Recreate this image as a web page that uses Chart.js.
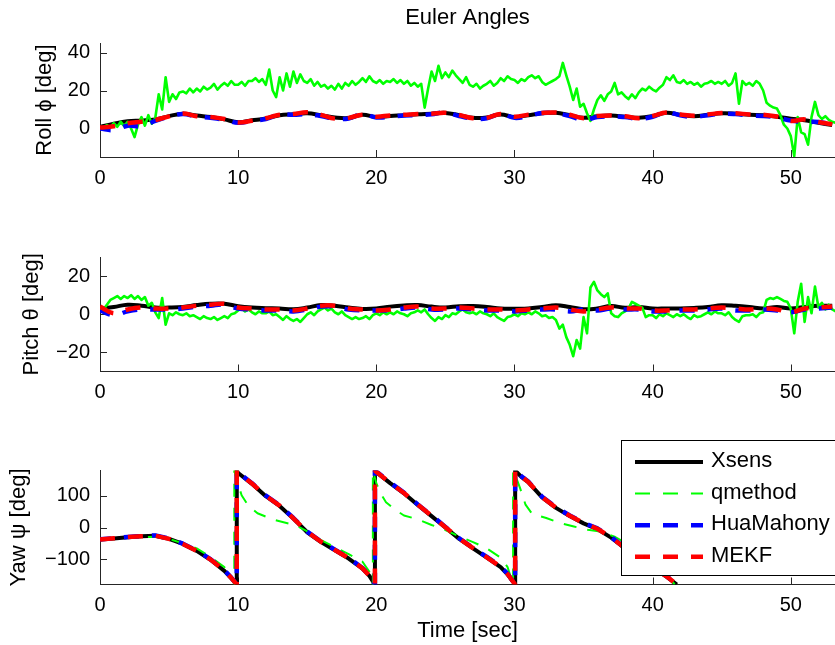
<!DOCTYPE html>
<html>
<head>
<meta charset="utf-8">
<script src="https://cdn.jsdelivr.net/npm/chart.js@4/dist/chart.umd.min.js"></script>
<style>
html,body{margin:0;padding:0;background:#fff;}
#wrap{position:relative;width:835px;height:645px;overflow:hidden;background:#fff;}
canvas{position:absolute;left:0;}
</style>
</head>
<body>
<div id="wrap">
<canvas id="c1" width="835" height="200" style="top:0px"></canvas>
<canvas id="c2" width="835" height="210" style="top:200px"></canvas>
<canvas id="c3" width="835" height="235" style="top:410px"></canvas>
</div>
<script>
// ---------- labels ----------
const chartTitle = 'Euler Angles';
const seriesNames = ['Xsens', 'qmethod', 'HuaMahony', 'MEKF'];
const yTitles = ['Roll \u03D5 [deg]', 'Pitch \u03B8 [deg]', 'Yaw \u03C8 [deg]'];
const xTitle = 'Time [sec]';
const xTicks = [0, 10, 20, 30, 40, 50];
const rollTicks = [0, 20, 40];
const pitchTicks = [-20, 0, 20];
const yawTicks = [-100, 0, 100];

// ---------- Roll (1 s samples for filters, 0.25 s for qmethod) ----------
const rollXsens = [0.8,2.5,3.8,4.2,4.8,6.5,7.8,6.8,6.0,4.8,3.3,4.3,5.3,7.0,7.5,8.0,7.0,5.8,5.5,7.2,6.0,6.6,7.0,7.5,7.8,8.2,7.0,5.6,5.8,7.4,6.0,7.0,8.0,8.3,7.0,5.6,6.5,6.8,6.2,5.6,6.5,8.3,7.2,6.5,7.2,8.0,7.8,7.2,7.0,6.2,5.2,4.3,3.0,1.8];
const rollHua = [0.0,-0.8,1.5,1.2,4.0,6.2,7.6,6.3,5.6,4.6,3.0,4.0,5.0,7.3,7.2,7.6,6.6,5.2,5.3,7.6,5.8,6.2,6.8,7.0,7.5,8.5,6.6,5.2,5.4,7.7,5.6,6.6,8.2,8.0,6.6,4.6,6.0,6.4,6.0,5.2,6.2,8.6,6.9,6.2,7.0,7.8,7.6,6.9,6.6,5.8,4.2,3.5,3.4,2.2];
const rollMEKF = [0.5,1.2,2.8,3.6,4.5,6.4,7.9,6.5,6.1,5.0,3.2,4.1,5.4,7.2,7.6,8.6,7.2,5.2,5.6,7.3,6.2,6.9,7.2,7.6,7.8,8.3,7.1,5.4,5.6,7.6,6.2,7.3,8.2,8.4,7.2,5.4,6.6,6.9,6.4,5.4,6.6,8.4,7.4,6.7,7.4,8.1,8.0,7.4,7.2,6.3,4.0,4.8,3.4,2.2];
const rollQ = [
1.0,0.2,1.8,0.5, 2.8,0.9,3.5,1.2, 3.5,0.0,-4.5,2.0, 6.0,1.5,7.0,2.5, 5.5,18.0,10.0,27.0,
14.0,18.0,15.5,19.0, 19.5,18.5,21.0,19.0, 21.0,19.5,22.0,20.5, 21.5,23.5,20.5,22.5, 24.0,22.5,25.0,23.0,
23.0,24.5,22.5,25.0, 25.0,26.5,24.5,26.0, 23.0,31.0,20.0,16.5, 27.0,20.0,29.0,22.0, 30.0,24.0,28.5,25.0,
24.0,26.0,22.5,24.5, 22.0,23.0,21.0,22.5, 20.5,23.5,21.0,24.0, 22.5,25.0,23.0,24.5, 26.5,24.5,27.5,25.0,
24.0,25.5,23.5,25.0, 24.5,26.0,24.0,25.5, 23.5,25.0,22.5,24.0, 22.0,23.5,11.0,21.0, 30.0,25.0,33.0,26.5,
29.5,27.0,30.5,28.0, 26.0,24.0,27.0,23.0, 22.0,23.5,21.0,22.5, 23.5,25.0,22.5,24.0, 26.5,25.0,27.5,26.0,
25.5,24.0,26.0,25.0, 27.0,28.0,26.5,27.5, 24.5,23.0,24.0,25.0, 26.0,27.5,34.5,28.0, 22.0,15.0,21.0,11.5,
13.0,8.0,4.0,10.0, 15.0,17.5,14.5,18.0, 19.5,24.0,18.0,19.0, 17.0,15.5,18.0,16.0, 19.0,21.0,20.0,22.0,
20.5,19.5,21.5,23.0, 27.0,25.5,28.0,24.5, 24.0,25.5,23.5,24.5, 23.0,24.0,22.0,23.5, 24.0,25.0,23.5,24.5,
23.5,25.0,22.5,24.0, 29.0,13.0,25.0,23.0, 24.0,22.5,25.0,23.5, 20.0,13.5,12.0,11.0, 10.5,7.0,2.0,0.0,
-4.0,-14.5,6.0,-2.0, -3.0,-8.5,6.0,14.0, 7.0,5.0,6.5,4.5, 3.5,3.0];

// ---------- Pitch ----------
const pitchXsens = [3.0,3.8,5.0,4.5,3.5,3.5,3.8,4.8,5.5,5.5,4.2,3.5,3.2,3.0,2.6,3.5,4.8,4.5,3.5,2.8,3.0,4.0,4.6,4.8,4.0,3.6,4.2,4.3,3.8,3.0,2.9,3.0,3.8,4.7,3.8,2.6,3.0,4.3,3.4,3.8,3.0,3.0,3.0,3.3,3.8,4.7,4.4,3.8,3.0,3.8,3.0,3.8,4.4,4.4];
const pitchHua = [2.0,-0.5,1.5,2.5,2.5,2.5,3.0,4.0,4.5,5.0,3.0,2.5,2.0,2.0,1.5,2.5,4.0,4.0,2.5,2.0,2.0,2.0,3.0,3.5,2.5,2.5,3.0,2.5,2.0,2.0,1.5,2.0,2.5,2.5,1.5,2.5,2.0,3.0,2.5,2.5,1.5,1.5,2.0,2.0,2.5,3.0,2.0,2.0,2.5,2.0,1.0,2.5,3.0,3.5];
const pitchMEKF = [4.0,0.5,2.5,3.5,3.0,3.0,3.5,4.5,5.0,5.5,3.5,3.0,2.5,2.5,2.0,3.0,4.5,4.5,3.0,2.5,2.0,2.5,3.5,4.0,3.0,3.0,3.5,3.0,2.5,2.5,2.0,2.5,3.0,3.5,2.5,1.5,2.5,3.5,3.0,3.0,2.0,2.0,2.5,2.5,3.0,3.5,3.0,2.5,3.0,2.5,1.0,3.0,3.5,4.0];
const pitchQ = [
3.0,2.5,5.0,7.5, 8.5,9.5,8.0,9.5, 8.5,10.0,8.0,9.5, 7.5,9.0,4.5,6.0, 1.0,-2.0,8.5,-5.5,
0.5,-0.5,1.0,0.0, -0.5,0.5,-1.0,-0.5, -1.5,-2.5,-1.0,-2.0, -2.5,-1.5,-3.0,-2.0, -1.0,-2.0,0.0,0.5,
2.0,3.0,1.5,2.5, 1.0,0.0,1.5,0.5, 0.5,1.5,-0.5,0.0, -1.5,-3.0,-1.0,-2.5, -3.5,-2.5,-4.0,-2.0,
0.0,1.0,-0.5,1.5, 2.5,3.5,2.0,3.0, 1.0,0.0,1.5,-0.5, -1.5,-2.5,-1.5,-2.5, -2.0,-1.0,-2.5,-0.5,
0.5,-0.5,1.0,0.0, 1.0,0.0,1.5,0.5, 0.0,-1.0,0.5,1.0, 2.0,1.0,2.5,0.0, -2.0,-3.5,-1.5,-2.5,
-0.5,-1.5,0.5,0.0, 1.5,2.5,1.0,0.5, 1.0,0.0,1.5,0.5, 0.0,-1.0,0.5,-1.5, -2.5,-3.5,-1.5,-1.0,
0.0,-1.0,0.5,0.0, 1.0,0.0,1.5,0.5, -1.0,-0.5,-2.0,-1.5, -3.0,-7.5,-5.5,-12.0, -16.0,-22.0,-13.5,-18.0,
-1.5,-10.0,14.0,17.0, 12.5,10.5,9.0,11.0, 0.5,-1.0,-1.5,0.5, 1.5,3.0,6.5,5.5, 4.5,3.5,-1.5,-0.5,
-0.5,-2.0,0.0,-1.0, 0.5,-0.5,-1.5,0.0, -1.0,0.0,-1.5,-2.5, -0.5,-1.5,-1.0,0.0, 1.0,0.0,1.5,0.5,
0.5,-0.5,1.0,-1.5, -3.0,-4.0,-1.0,-0.5, -0.5,0.0,-1.5,0.5, 1.0,7.5,8.5,8.0, 9.0,8.0,7.0,6.5,
3.0,-10.0,6.5,16.0, -4.0,9.0,0.5,14.5, 3.5,6.0,2.5,5.0, 2.5,1.5];

// ---------- Yaw (wrapping at +/-180) ----------
const yawTime = [0,1,2,3,4,5,6,7,8,9,9.5,9.9,9.9,10,11,12,13,14,15,16,17,18,19,19.5,19.9,19.9,20,21,22,23,24,25,26,27,28,29,29.5,30.05,30.05,30.5,31,32,33,34,35,36,37,38,39,40,41,41.75];
const yawXsens = [-38,-35,-31,-28,-26,-36,-52,-74,-102,-137,-160,-180,180,172,138,99,68,28,-15,-46,-72,-98,-130,-153,-180,180,175,140,108,71,36,0,-36,-66,-95,-125,-148,-180,180,160,143,95,62,36,13,-5,-32,-66,-97,-126,-155,-180];
const yawHua = [-37,-34,-30,-27,-25,-35,-51,-73,-100,-135,-158,-180,180,174,140,101,70,30,-13,-44,-70,-96,-128,-151,-180,180,177,142,110,73,38,2,-34,-64,-93,-123,-146,-180,180,162,145,97,64,38,15,-3,-30,-64,-95,-124,-153,-180];
const yawMEKF = [-38,-34,-30,-28,-26,-36,-52,-74,-101,-136,-159,-180,180,173,139,100,69,29,-14,-45,-71,-97,-129,-152,-180,180,176,141,109,72,37,1,-35,-65,-94,-124,-147,-180,180,161,144,96,63,37,14,-4,-31,-65,-96,-125,-154,-180];
const yawQTime = [0,1,2,3,4,5,6,7,8,9,9.4,9.72,9.72,9.9,10.25,10.7,11.4,12.6,14.1,15,16,17,18,19,19.5,19.75,19.75,20,20.3,20.7,21.3,22,23,24,25,26,27,28,29,29.5,29.9,29.9,30.1,30.4,30.8,31.3,32.3,33.3,34.3,35.3,36.3,37.3,38.3,39.3,40.3,41,41.6];
const yawQ = [-38,-35,-33,-31,-29,-36,-50,-66,-93,-125,-145,-180,180,150,102,71,45,24,8,-12,-40,-62,-84,-108,-140,-180,180,140,108,80,58,38,26,8,-8,-28,-46,-66,-95,-125,-180,180,160,125,72,42,30,14,3,-7,-13,-30,-55,-85,-118,-148,-180];

// ---------- helpers ----------
Chart.defaults.font.family = "'Liberation Sans', Arial, Helvetica, sans-serif";
Chart.defaults.color = '#000';
const AXIS = '#262626';
const COLORS = {Xsens:'#000000', qmethod:'#00ff00', HuaMahony:'#0000ff', MEKF:'#ff0000'};
const secGrid = arr => arr.map((_, i) => i);
const quarterGrid = arr => arr.map((_, i) => i * 0.25);
const pts = (xs, ys) => ys.map((y, i) => ({x: xs[i], y}));
const fmt = v => (v < 0 ? '\u2212' + Math.abs(v) : String(v));

function makeSets(xs1, a, hua, mekf, xsq, q, tension, qDash, qWidth) {
  return [
    {label:'MEKF', data: pts(xs1, mekf), borderColor: COLORS.MEKF, borderWidth: 4.5, borderDash:[15,13], borderDashOffset: 0, tension, clip: 0},
    {label:'HuaMahony', data: pts(xs1, hua), borderColor: COLORS.HuaMahony, borderWidth: 4.5, borderDash:[15,13], borderDashOffset: 4, tension, clip: 0},
    {label:'qmethod', data: pts(xsq, q), borderColor: COLORS.qmethod, borderWidth: qWidth, borderDash: qDash, tension: 0, clip: 0},
    {label:'Xsens', data: pts(xs1, a), borderColor: COLORS.Xsens, borderWidth: 4, tension, clip: 0}
  ];
}

const inwardTicks = {
  id: 'inwardTicks',
  beforeDatasetsDraw(chart) {
    const {ctx, chartArea: a, scales: {x, y}} = chart;
    ctx.save();
    ctx.strokeStyle = AXIS; ctx.lineWidth = 1;
    ctx.beginPath();
    x.ticks.forEach(t => { const px = Math.round(x.getPixelForValue(t.value)) + 0.5; ctx.moveTo(px, a.bottom); ctx.lineTo(px, a.bottom - 7); });
    y.ticks.forEach(t => { const py = Math.round(y.getPixelForValue(t.value)) + 0.5; ctx.moveTo(a.left, py); ctx.lineTo(a.left + 7, py); });
    ctx.stroke();
    ctx.restore();
  }
};

const legendBox = {
  id: 'legendBox',
  afterDraw(chart) {
    const ctx = chart.ctx;
    const left = 621.5, top = 30.5, w = 260, h = 135;
    ctx.save();
    ctx.fillStyle = '#fff';
    ctx.fillRect(left, top, w, h);
    ctx.strokeStyle = '#000'; ctx.lineWidth = 1;
    ctx.strokeRect(left, top, w, h);
    const styles = {
      Xsens: {w: 4, dash: []},
      qmethod: {w: 2, dash: [15, 13]},
      HuaMahony: {w: 4.5, dash: [15, 13]},
      MEKF: {w: 4.5, dash: [15, 13]}
    };
    ctx.font = "22px 'Liberation Sans', Arial, sans-serif";
    ctx.textBaseline = 'middle';
    ctx.textAlign = 'left';
    seriesNames.forEach((name, i) => {
      const yy = top + 21.5 + i * 31.6;
      ctx.beginPath();
      ctx.setLineDash(styles[name].dash);
      ctx.lineWidth = styles[name].w;
      ctx.strokeStyle = COLORS[name];
      ctx.moveTo(635, yy); ctx.lineTo(703, yy);
      ctx.stroke();
      ctx.setLineDash([]);
      ctx.fillStyle = '#000';
      ctx.fillText(name, 711, yy - 1);
    });
    ctx.restore();
  }
};

function makeChart(id, cfg) {
  const plugins = [inwardTicks].concat(cfg.extraPlugins || []);
  return new Chart(document.getElementById(id), {
    type: 'line',
    data: {datasets: cfg.datasets},
    plugins,
    options: {
      responsive: false, animation: false, devicePixelRatio: 1, events: [],
      layout: {padding: {top: cfg.padTop, left: 0, right: 0, bottom: 0}},
      elements: {point: {radius: 0}, line: {borderCapStyle: 'butt', borderJoinStyle: 'round', fill: false}},
      plugins: {
        legend: {display: false},
        tooltip: {enabled: false},
        title: cfg.title ? {display: true, text: cfg.title, fullSize: false, color: '#000',
          font: {size: 22, weight: 'normal'}, padding: {top: 5, bottom: 11.6}} : {display: false}
      },
      scales: {
        x: {
          type: 'linear', min: 0, max: 53.2,
          afterBuildTicks: s => { s.ticks = xTicks.map(v => ({value: v})); },
          afterFit: s => { s.height = cfg.xHeight; },
          grid: {display: false, drawTicks: false},
          border: {display: true, color: AXIS, width: 1},
          ticks: {font: {size: 20}, color: '#000', padding: 9, maxRotation: 0, autoSkip: false, callback: fmt},
          title: cfg.xTitle ? {display: true, text: cfg.xTitle, color: '#000', font: {size: 22}, padding: {top: 0, bottom: 1}} : {display: false}
        },
        y: {
          type: 'linear', min: cfg.yMin, max: cfg.yMax,
          afterBuildTicks: s => { s.ticks = cfg.yTicks.map(v => ({value: v})); },
          afterFit: s => { s.width = 100; },
          grid: {display: false, drawTicks: false},
          border: {display: true, color: AXIS, width: 1},
          ticks: {font: {size: 20}, color: '#000', padding: 10, callback: fmt},
          title: {display: true, text: cfg.yTitle, color: '#000', font: {size: 22}, padding: {top: cfg.yTitleOffset, bottom: 0}}
        }
      }
    }
  });
}

makeChart('c1', {
  title: chartTitle, padTop: 0, xHeight: 43, yTitleOffset: 31.8,
  yMin: -15, yMax: 45, yTicks: rollTicks, yTitle: yTitles[0],
  datasets: makeSets(secGrid(rollXsens), rollXsens, rollHua, rollMEKF, quarterGrid(rollQ), rollQ, 0.4, [], 2.6)
});
makeChart('c2', {
  padTop: 57, xHeight: 38.5, yTitleOffset: 19,
  yMin: -30, yMax: 30, yTicks: pitchTicks, yTitle: yTitles[1],
  datasets: makeSets(secGrid(pitchXsens), pitchXsens, pitchHua, pitchMEKF, quarterGrid(pitchQ), pitchQ, 0.4, [], 2.6)
});
makeChart('c3', {
  padTop: 60.5, xHeight: 60.5, xTitle: xTitle, yTitleOffset: 6,
  yMin: -180, yMax: 180, yTicks: yawTicks, yTitle: yTitles[2],
  datasets: makeSets(yawTime, yawXsens, yawHua, yawMEKF, yawQTime, yawQ, 0, [13, 11], 2),
  extraPlugins: [legendBox]
});
</script>
</body>
</html>
